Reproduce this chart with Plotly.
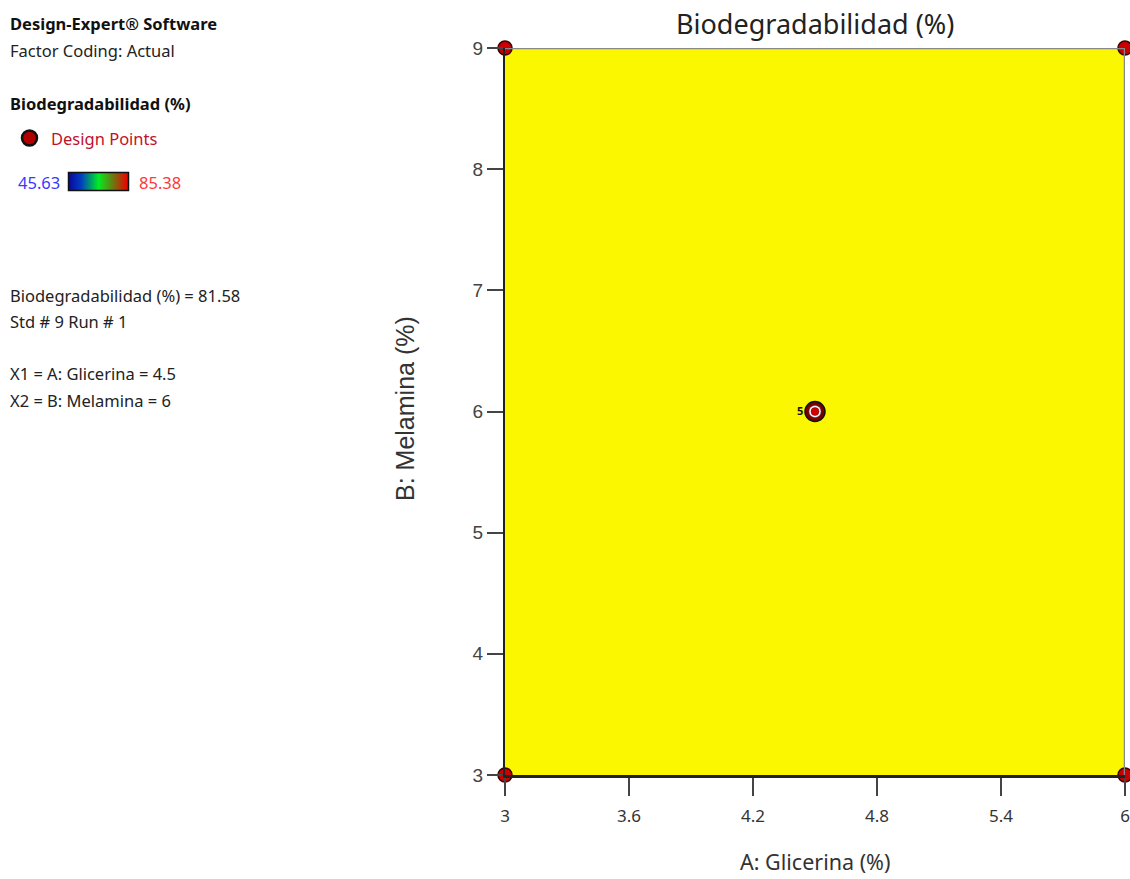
import plotly.graph_objects as go

W, H = 1130, 879
FONT = "Noto Sans"
ARIAL = "Liberation Sans"

# ---- data ----
x_range = [3, 6]
y_range = [3, 9]
x_ticks = [3, 3.6, 4.2, 4.8, 5.4, 6]
y_ticks = [3, 4, 5, 6, 7, 8, 9]
design_x = [3, 3, 6, 6]
design_y = [3, 9, 3, 9]
center_x = [4.5]
center_y = [6]
center_count = ["5"]
response_min = 45.63
response_max = 85.38
response_value = 81.58

def px(x):
    return x / W

def py(y):
    return 1 - y / H

fig = go.Figure()

# filled contour region (single level, yellow)
fig.add_trace(go.Scatter(
    x=[x_range[0], x_range[1], x_range[1], x_range[0], x_range[0]],
    y=[y_range[0], y_range[0], y_range[1], y_range[1], y_range[0]],
    fill="toself", fillcolor="#fbf700", mode="lines",
    line=dict(width=0), hoverinfo="skip", showlegend=False))

# center point (replicated)
fig.add_trace(go.Scatter(x=center_x, y=center_y, mode="markers", cliponaxis=False,
    marker=dict(size=20, color="#7a0000", line=dict(color="#111", width=1.5)), showlegend=False))
fig.add_trace(go.Scatter(x=center_x, y=center_y, mode="markers",
    marker=dict(size=12, color="#ffffff", line=dict(color="#555", width=0.5)), showlegend=False))
fig.add_trace(go.Scatter(x=center_x, y=center_y, mode="markers",
    marker=dict(size=8, color="#d00000", line=dict(color="#700000", width=0.5)), showlegend=False))

fig.add_annotation(x=center_x[0], y=center_y[0], text="<b>" + center_count[0] + "</b>",
                   showarrow=False, xanchor="right", xshift=-10, yshift=1,
                   font=dict(size=11, color="#111", family=FONT))

# colour-scale swatch
fig.add_trace(go.Heatmap(
    z=[[response_min + (response_max - response_min) * i / 59 for i in range(60)]],
    x=list(range(60)), y=[0],
    colorscale=[[0, "#0a0aa0"], [0.2, "#0040c0"], [0.5, "#00f020"], [0.75, "#6a7a10"], [1, "#ee0000"]],
    showscale=False, xaxis="x2", yaxis="y2", hoverinfo="skip"))

fig.update_layout(
    width=W, height=H,
    margin=dict(l=0, r=0, t=0, b=0, pad=0),
    paper_bgcolor="white", plot_bgcolor="white",
    font=dict(family=FONT, color="#333"),
    xaxis=dict(domain=[px(505), px(1125)], range=x_range, tickvals=x_ticks,
               ticktext=[f"{v:g}" for v in x_ticks], automargin=False,
               showgrid=False, zeroline=False, showline=True, linecolor="#222", linewidth=2.5,
               ticks="outside", ticklen=18, tickcolor="#444", tickwidth=1.5,
               ticklabelstandoff=6,
               tickfont=dict(size=17, color="#333", family=FONT)),
    yaxis=dict(domain=[py(775), py(48)], range=y_range, tickvals=y_ticks, automargin=False,
               showgrid=False, zeroline=False, showline=True, linecolor="#222", linewidth=2,
               ticks="outside", ticklen=16, tickcolor="#444", tickwidth=1.5,
               tickfont=dict(size=19, color="#444", family=ARIAL)),
    xaxis2=dict(domain=[px(69), px(128)], range=[-0.5, 59.5], visible=False, fixedrange=True,
                anchor="y2", automargin=False),
    yaxis2=dict(domain=[py(190), py(173)], range=[-0.5, 0.5], visible=False, fixedrange=True,
                anchor="x2", automargin=False),
    showlegend=False,
)

# top & right border lines (grey)
fig.add_shape(type="line", xref="x", yref="y", x0=x_range[0], x1=x_range[1], y0=y_range[1], y1=y_range[1],
              line=dict(color="#888", width=2.5))
fig.add_shape(type="line", xref="x", yref="y", x0=x_range[1], x1=x_range[1], y0=y_range[0], y1=y_range[1],
              line=dict(color="#888", width=2.5))

# corner design points (drawn after borders)
fig.add_trace(go.Scatter(
    x=design_x, y=design_y, mode="markers", cliponaxis=False,
    marker=dict(size=14, color="#c80000", line=dict(color="#3a0000", width=1.5)),
    showlegend=False))

# swatch border
fig.add_shape(type="rect", xref="paper", yref="paper", x0=px(68.5), x1=px(128.5), y0=py(190.5), y1=py(172.5),
              line=dict(color="#111", width=1.5))
# legend marker
fig.add_shape(type="circle", xref="paper", yref="paper", x0=px(22), x1=px(37), y0=py(145.5), y1=py(130.5),
              fillcolor="#b00000", line=dict(color="#111", width=2.5))

def text(x, y, s, size=16.5, color="#222", bold=False, anchor="left", family=FONT, angle=0):
    fig.add_annotation(xref="paper", yref="paper", x=px(x), y=py(y), text=("<b>%s</b>" % s) if bold else s,
                       showarrow=False, xanchor=anchor, yanchor="middle", textangle=angle,
                       font=dict(size=size, color=color, family=family))

text(815, 24, "Biodegradabilidad (%)", size=27, color="#222", anchor="center")
text(815, 861, "A: Glicerina (%)", size=21.5, color="#333", anchor="center")
text(405, 409, "B: Melamina (%)", size=25, color="#333", anchor="center", family=ARIAL, angle=-90)

text(8, 24, "Design-Expert® Software", bold=True, color="#111")
text(8, 51, "Factor Coding: Actual")
text(8, 103, "Biodegradabilidad (%)", bold=True, color="#111")
text(49, 138, "Design Points", color="#c0102a")
text(16, 182, f"{response_min:.2f}", color="#3a3aff")
text(137, 182, f"{response_max:.2f}", color="#ff3a3a")
text(8, 295, f"Biodegradabilidad (%) = {response_value:.2f}")
text(8, 321, "Std # 9 Run # 1")
text(8, 374, f"X1 = A: Glicerina = {center_x[0]:g}")
text(8, 400, f"X2 = B: Melamina = {center_y[0]:g}")

fig.write_html("out.html")
